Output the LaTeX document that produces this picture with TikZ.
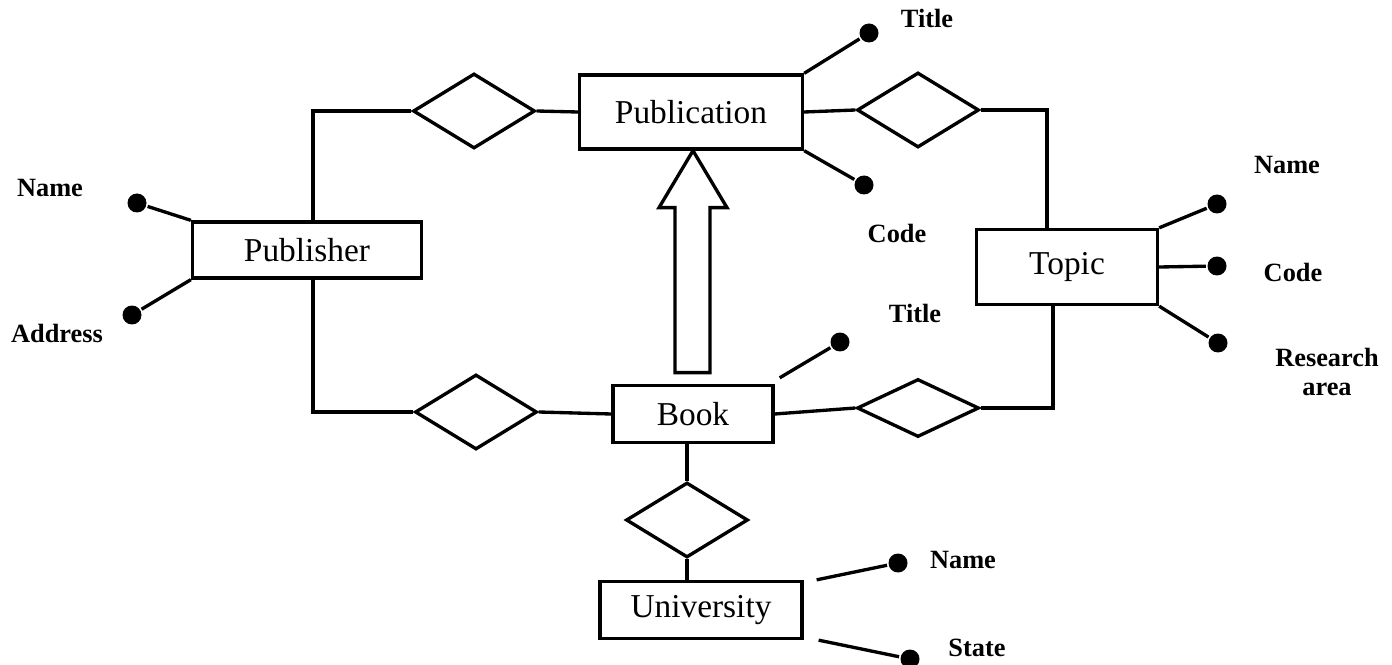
\documentclass[tikz,border=0pt]{standalone}
\usepackage{fontspec}
\setmainfont{Liberation Serif}
\usetikzlibrary{shapes.geometric}

\tikzset{
  entity/.style={draw, rectangle, inner sep=0pt, font=\fontsize{19}{22}\selectfont},
  rel/.style={draw, diamond, inner sep=0pt, minimum width=2.44cm, minimum height=1.5cm},
  attr/.style={circle, fill, inner sep=0pt, minimum size=0.38cm},
  lbl/.style={font=\bfseries\fontsize{15}{17}\selectfont, align=center},
}

\begin{document}
\begin{tikzpicture}[x=0.02cm, y=-0.02cm, line width=1.9pt]
\useasboundingbox (0,0) rectangle (1392,665);

% entities
\node[entity, minimum width=4.46cm, minimum height=1.48cm] (publication) at (691,112) {Publication};
\node[entity, minimum width=4.58cm, minimum height=1.12cm] (publisher) at (307,250) {Publisher};
\node[entity, minimum width=3.62cm, minimum height=1.5cm] (topic) at (1067,267) {Topic};
\node[entity, minimum width=3.2cm, minimum height=1.14cm] (book) at (693,414) {Book};
\node[entity, minimum width=4.04cm, minimum height=1.14cm] (university) at (701,610) {University};

% relationships
\node[rel] (pubrel) at (474,111) {};
\node[rel] (topicrel) at (918,110) {};
\node[rel] (bookpub) at (476,412) {};
\node[rel, minimum height=1.16cm] (booktopic) at (918,408) {};
\node[rel] (bookuni) at (687,520) {};

\draw (pubrel.east) -- (publication.west);
\draw (pubrel.west) -| ([xshift=0.12cm]publisher.north);
\draw ([xshift=0.12cm]publisher.south) |- (bookpub.west);
\draw (bookpub.east) -- (book.west);
\draw (publication.east) -- (topicrel.west);
\draw (topicrel.east) -| ([xshift=-0.4cm]topic.north);
\draw (book.east) -- (booktopic.west);
\draw (booktopic.east) -| ([xshift=-0.28cm]topic.south);
\draw (book.south -| bookuni.north) -- (bookuni.north);
\draw (bookuni.south) -- (university.north -| bookuni.south);

% is-a arrow
\coordinate (isatip) at (publication.south -| book.north);
\draw (isatip) -- ++(-34,57) -- ++(16,0) -- ++(0,165) -- ++(35,0)
      -- ++(0,-165) -- ++(17,0) -- cycle;

% attributes
\node[attr] (pubtitle) at (869,33) {};
\node[attr] (pubcode) at (864,185) {};
\node[lbl] at (927,18) {Title};
\node[lbl] at (897,233) {Code};
\draw (publication.north east) -- (pubtitle);
\draw (publication.south east) -- (pubcode);

\node[attr] (pubname) at (137,203) {};
\node[attr] (pubaddr) at (132,315) {};
\node[lbl] at (50,188) {Name};
\node[lbl] at (57,333) {Address};
\draw (publisher.north west) -- (pubname);
\draw (publisher.south west) -- (pubaddr);

\node[attr] (topname) at (1217,204) {};
\node[attr] (topcode) at (1217,266) {};
\node[attr] (toparea) at (1218,343) {};
\node[lbl] at (1287,165) {Name};
\node[lbl] at (1293,272) {Code};
\node[lbl] at (1327,372) {Research\\area};
\draw (topic.north east) -- (topname);
\draw (topic.east) -- (topcode);
\draw (topic.south east) -- (toparea);

\node[attr] (booktitle) at (840,342) {};
\node[lbl] at (915,313) {Title};
\draw ([shift={(0.1cm,0.12cm)}]book.north east) -- (booktitle);

\node[attr] (uniname) at (898,563) {};
\node[attr] (unistate) at (910,659) {};
\node[lbl] at (963,560) {Name};
\node[lbl] at (977,648) {State};
\draw ([xshift=0.26cm]university.north east) -- (uniname);
\draw ([xshift=0.3cm]university.south east) -- (unistate);

\end{tikzpicture}
\end{document}
